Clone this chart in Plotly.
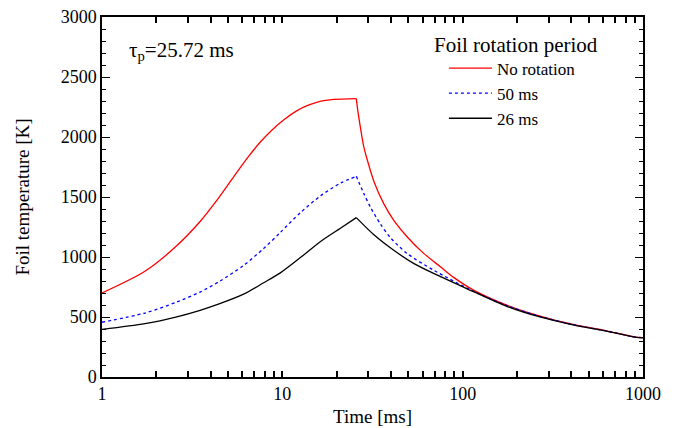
import plotly.graph_objects as go

# ---- data (Time [ms], Foil temperature [K]) ----
t_red = [1, 1.73, 2.55, 3.5, 4.33, 5.37, 6.5, 7.55, 8.8, 10.2, 12, 13.7, 16, 19.3, 25.72,
         26.2, 27.1, 28.3, 29.5, 32.2, 36.5, 41.5, 49.3, 61, 75.5, 89.5, 115.6, 177, 271, 415, 636, 906, 1000]
T_red = [700, 881, 1083, 1296, 1472, 1668, 1838, 1958, 2061, 2144, 2218, 2261, 2295, 2313, 2320,
         2222, 2080, 1917, 1815, 1630, 1445, 1306, 1167, 1028, 917, 828, 722, 597, 506, 436, 383, 333, 328]

t_blue = [1, 1.73, 2.6, 3.5, 4.52, 6.1, 7.87, 9.75, 12.6, 16.3, 21.0, 25.72,
          28.3, 30.8, 35, 39.8, 49.3, 69.3, 115.6, 177, 271, 415, 636, 906, 1000]
T_blue = [456, 533, 625, 708, 800, 930, 1070, 1205, 1370, 1510, 1615, 1672,
          1530, 1415, 1275, 1160, 1028, 889, 712, 593, 503, 434, 382, 333, 327]

t_black = [1, 1.73, 2.6, 3.5, 4.5, 6.1, 7.87, 9.75, 12.6, 16.3, 21.0, 25.72,
           32.2, 41.5, 53.7, 75.5, 106, 177, 271, 415, 636, 906, 1000]
T_black = [397, 445, 502, 556, 611, 690, 785, 868, 995, 1130, 1240, 1328,
           1185, 1056, 945, 836, 735, 587, 498, 432, 380, 332, 326]

series_names = ["No rotation", "50 ms", "26 ms"]
series_colors = ["#ff0000", "#0000ff", "#000000"]
series_dash = ["solid", "dot", "solid"]
t_peak = 25.72

x_ticks = [1, 10, 100, 1000]
x_tick_labels = ["1", "10", "100", "1000"]
x_minor_ticks = [m * d for d in (1, 10, 100) for m in range(2, 10)]

# all x ticks on one axis (labels only on decades)
x_all_ticks = x_ticks + x_minor_ticks
x_all_labels = x_tick_labels + [""] * len(x_minor_ticks)

FONT = "Liberation Serif"

fig = go.Figure()
for name, tx, ty, col, dash in zip(series_names, [t_red, t_blue, t_black],
                                   [T_red, T_blue, T_black], series_colors, series_dash):
    k = tx.index(t_peak)
    line = dict(color=col, width=1.3, dash=dash, shape="spline", smoothing=0.8)
    # heating part (with legend entry) and cooling part, split at the pulse end
    fig.add_trace(go.Scatter(x=tx[:k + 1], y=ty[:k + 1], mode="lines", name=name, line=line))
    fig.add_trace(go.Scatter(x=tx[k:], y=ty[k:], mode="lines", name=name,
                             showlegend=False, line=line))

fig.update_layout(
    width=688, height=428,
    margin=dict(l=102, r=45, t=17, b=51, autoexpand=False),
    paper_bgcolor="white", plot_bgcolor="white",
    font=dict(family=FONT, size=17, color="black"),
    showlegend=True,
    legend=dict(
        x=0.632, y=0.907, xanchor="left", yanchor="top",
        bgcolor="rgba(0,0,0,0)",
        font=dict(size=17, family=FONT, color="black"),
        itemwidth=43,
        tracegroupgap=0,
        traceorder="normal",
    ),
    annotations=[
        dict(text="τ<sub>p</sub>=25.72 ms", x=0.046, y=0.905, xref="paper", yref="paper",
             xanchor="left", yanchor="middle", showarrow=False,
             font=dict(size=21, family=FONT, color="black")),
        dict(text="Foil rotation period", x=0.61, y=0.922, xref="paper", yref="paper",
             xanchor="left", yanchor="middle", showarrow=False,
             font=dict(size=21, family=FONT, color="black")),
    ],
    xaxis=dict(
        type="log", range=[0, 3], automargin=False,
        tickmode="array", tickvals=x_all_ticks, ticktext=x_all_labels,
        ticks="inside", ticklen=6, tickwidth=1.5, tickcolor="black",
        showline=True, linecolor="black", linewidth=1.5, mirror="ticks",
        showgrid=False, zeroline=False,
        title=dict(text="Time [ms]", font=dict(size=19, family=FONT, color="black"), standoff=6),
        tickfont=dict(size=18, family=FONT, color="black"),
    ),
    yaxis=dict(
        range=[0, 3000], dtick=500, tick0=0, automargin=False,
        ticks="inside", ticklen=8, tickwidth=1.4, tickcolor="black",
        minor=dict(ticks="inside", ticklen=4, dtick=100, tickwidth=1.2, tickcolor="black", showgrid=False),
        showline=True, linecolor="black", linewidth=1.5, mirror="ticks",
        showgrid=False, zeroline=False,
        title=dict(text="Foil temperature [K]", font=dict(size=19, family=FONT, color="black"), standoff=26),
        tickfont=dict(size=18, family=FONT, color="black"),
    ),
)

fig.write_html("out.html")
